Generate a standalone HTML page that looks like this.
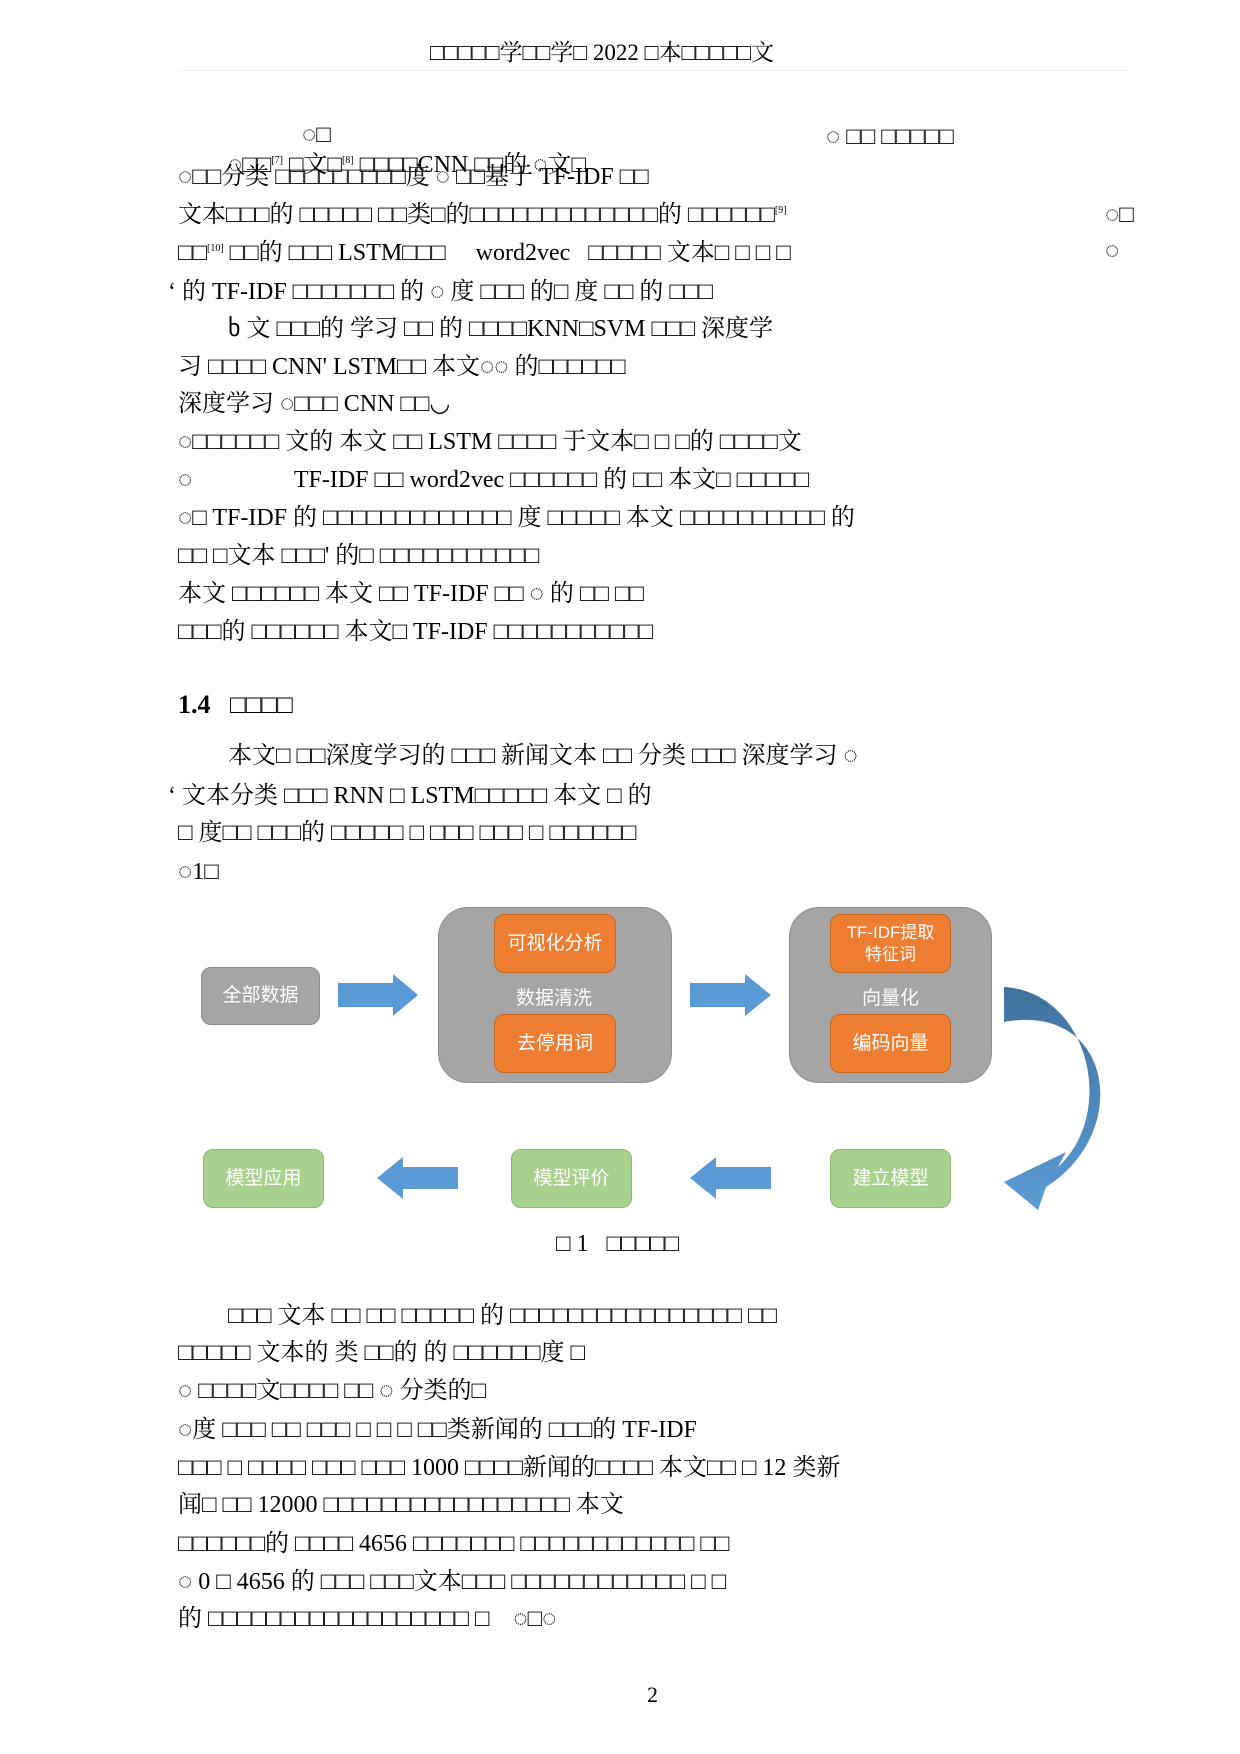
<!DOCTYPE html>
<html><head><meta charset="utf-8"><style>
body{margin:0;background:#fff;}
#p{position:relative;width:1240px;height:1754px;overflow:hidden;font-family:"Liberation Serif","Noto Serif CJK SC",serif;color:#000;}
.l{position:absolute;left:178px;font-size:24px;white-space:nowrap;line-height:30px;}
.b{position:absolute;border-radius:10px;color:#fff;font-family:"Liberation Sans","Noto Sans CJK SC",sans-serif;font-size:19px;display:flex;align-items:center;justify-content:center;text-align:center;line-height:24px;}
.g{background:#a5a5a5;border:1.5px solid #8c8c8c;}
.o{background:#ed7d31;border:1.5px solid #c8651f;}
.gr{background:#a9d18e;border:1.5px solid #8fb474;}
.big{position:absolute;background:#a5a5a5;border:1.5px solid #8c8c8c;border-radius:30px;}
.t{position:absolute;color:#fff;font-family:"Liberation Sans","Noto Sans CJK SC",sans-serif;font-size:19px;}
#d{position:absolute;left:-2px;top:-8px;width:1240px;height:1754px;}
</style></head><body><div id="p">
<div class="l" style="left:430px;top:38px;font-size:23px">□□□□□学□□学□ 2022 □本□□□□□文</div>
<div style="position:absolute;left:178px;top:70px;width:950px;height:1px;background:#f0f0f0"></div>
<div class="l" style="left:302px;top:120px">◌□</div>
<div class="l" style="left:826px;top:122px">◌ □□ □□□□□</div>
<div class="l" style="left:228px;top:146px">◌□□<sup style="font-size:10px">[7]</sup> □文□<sup style="font-size:10px">[8]</sup> □□□□CNN □□的 ◌文□</div>
<div class="l" style="top:162px">◌□□分类 □□□□□□□□□度 ◌ □□基于 TF-IDF □□</div>
<div class="l" style="top:196px">文本□□□的 □□□□□ □□类□的□□□□□□□□□□□□□的 □□□□□□<sup style="font-size:10px">[9]</sup></div>
<div class="l" style="left:1105px;top:200px">◌□</div>
<div class="l" style="top:234px">□□<sup style="font-size:10px">[10]</sup> □□的 □□□ LSTM□□□ &nbsp; &nbsp; word2vec &nbsp; □□□□□ 文本□ □ □ □</div>
<div class="l" style="left:1105px;top:236px">◌</div>
<div class="l" style="left:168px;top:277px">ʻ 的 TF-IDF □□□□□□□ 的 ◌ 度 □□□ 的□ 度 □□ 的 □□□</div>
<div class="l" style="left:228px;top:314px">ხ 文 □□□的 学习 □□ 的 □□□□KNN□SVM □□□ 深度学</div>
<div class="l" style="top:352px">习 □□□□ CNN' LSTM□□ 本文◌◌ 的□□□□□□</div>
<div class="l" style="top:389px">深度学习 ◌□□□ CNN □□◡</div>
<div class="l" style="top:427px">◌□□□□□□ 文的 本文 □□ LSTM □□□□ 于文本□ □ □的 □□□□文</div>
<div class="l" style="top:465px">◌ &nbsp; &nbsp; &nbsp; &nbsp; &nbsp; &nbsp; &nbsp; &nbsp; TF-IDF □□ word2vec □□□□□□ 的 □□ 本文□ □□□□□</div>
<div class="l" style="top:503px">◌□ TF-IDF 的 □□□□□□□□□□□□□ 度 □□□□□ 本文 □□□□□□□□□□ 的</div>
<div class="l" style="top:541px">□□ □文本 □□□' 的□ □□□□□□□□□□□</div>
<div class="l" style="top:579px">本文 □□□□□□ 本文 □□ TF-IDF □□ ◌ 的 □□ □□</div>
<div class="l" style="top:617px">□□□的 □□□□□□ 本文□ TF-IDF □□□□□□□□□□□</div>
<div class="l" style="top:690px;font-weight:bold;font-size:26px">1.4 &nbsp; □□□□</div>
<div class="l" style="left:228px;top:741px">本文□ □□深度学习的 □□□ 新闻文本 □□ 分类 □□□ 深度学习 ◌</div>
<div class="l" style="left:168px;top:781px">ʻ 文本分类 □□□ RNN □ LSTM□□□□□ 本文 □ 的</div>
<div class="l" style="top:818px">□ 度□□ □□□的 □□□□□ □ □□□ □□□ □ □□□□□□</div>
<div class="l" style="top:857px">◌1□</div>

<div id="d">
<svg style="position:absolute;left:0;top:0" width="1240" height="1754">
<defs><linearGradient id="cg" x1="0" y1="0" x2="0" y2="1"><stop offset="0" stop-color="#41719c"/><stop offset="1" stop-color="#5b9bd5"/></linearGradient></defs>
<polygon points="340,991 395,991 395,982 420,1003 395,1024 395,1015 340,1015" fill="#5b9bd5"/>
<polygon points="692,991 747,991 747,982 773,1003 747,1024 747,1015 692,1015" fill="#5b9bd5"/>
<polygon points="460,1175 405,1175 405,1165 379,1186 405,1207 405,1197 460,1197" fill="#5b9bd5"/>
<polygon points="773,1175 718,1175 718,1165 692,1186 718,1207 718,1197 773,1197" fill="#5b9bd5"/>
<path d="M1006,995 C1090,1000 1120,1120 1060,1175 L1068,1160 L1006,1190 L1040,1218 L1048,1195 C1135,1140 1115,1010 1006,1030 Z" fill="url(#cg)"/>
</svg>
<div class="b g" style="left:203px;top:975px;width:117px;height:56px">全部数据</div>
<div class="big" style="left:440px;top:915px;width:232px;height:174px"></div>
<div class="b o" style="left:496px;top:922px;width:120px;height:57px">可视化分析</div>
<div class="t" style="left:518px;top:991px">数据清洗</div>
<div class="b o" style="left:496px;top:1022px;width:120px;height:57px">去停用词</div>
<div class="big" style="left:791px;top:915px;width:201px;height:174px"></div>
<div class="b o" style="left:832px;top:922px;width:119px;height:57px;font-size:17px;line-height:22px">TF-IDF提取<br>特征词</div>
<div class="t" style="left:864px;top:991px">向量化</div>
<div class="b o" style="left:832px;top:1022px;width:119px;height:57px">编码向量</div>
<div class="b gr" style="left:205px;top:1157px;width:119px;height:57px">模型应用</div>
<div class="b gr" style="left:513px;top:1157px;width:119px;height:57px">模型评价</div>
<div class="b gr" style="left:832px;top:1157px;width:119px;height:57px">建立模型</div>
</div>
<div class="l" style="left:556px;top:1229px">□ 1 &nbsp; □□□□□</div>

<div class="l" style="left:228px;top:1301px">□□□ 文本 □□ □□ □□□□□ 的 □□□□□□□□□□□□□□□□ □□</div>
<div class="l" style="top:1338px">□□□□□ 文本的 类 □□的 的 □□□□□□度 □</div>
<div class="l" style="top:1376px">◌ □□□□文□□□□ □□ ◌ 分类的□</div>
<div class="l" style="top:1415px">◌度 □□□ □□ □□□ □ □ □ □□类新闻的 □□□的 TF-IDF</div>
<div class="l" style="top:1453px">□□□ □ □□□□ □□□ □□□ 1000 □□□□新闻的□□□□ 本文□□ □ 12 类新</div>
<div class="l" style="top:1490px">闻□ □□ 12000 □□□□□□□□□□□□□□□□□ 本文</div>
<div class="l" style="top:1529px">□□□□□□的 □□□□ 4656 □□□□□□□ □□□□□□□□□□□□ □□</div>
<div class="l" style="top:1567px">◌ 0 □ 4656 的 □□□ □□□文本□□□ □□□□□□□□□□□□ □ □</div>
<div class="l" style="top:1604px">的 □□□□□□□□□□□□□□□□□□ □ &nbsp; &nbsp;◌□◌</div>
<div class="l" style="left:647px;top:1680px;font-size:22px">2</div>
</div></body></html>
